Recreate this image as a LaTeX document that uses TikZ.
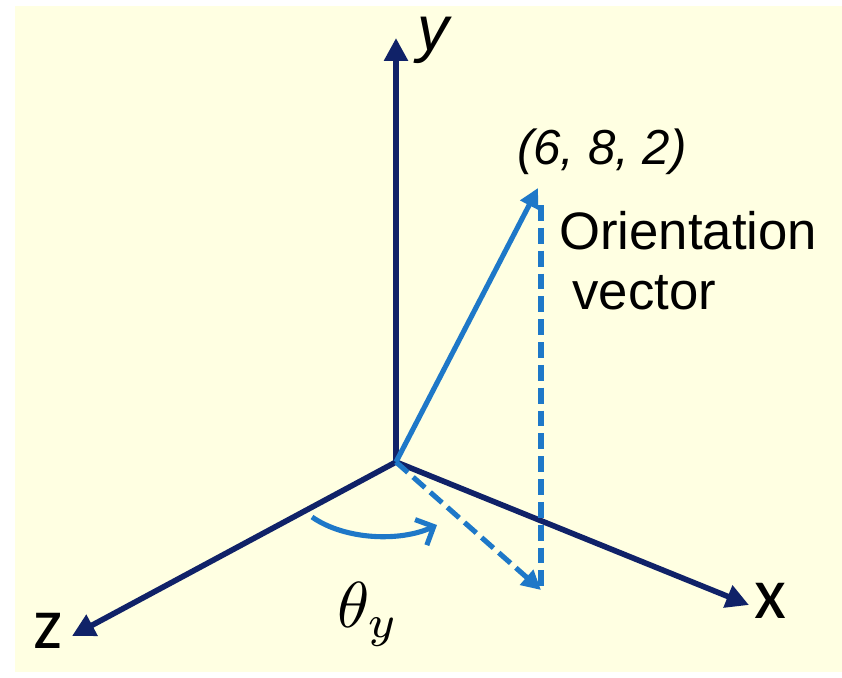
\documentclass[tikz,border=0pt]{standalone}
\usepackage{fontspec}
\setmainfont{Liberation Sans}
\newfontfamily\axisfont{Carlito}
\usetikzlibrary{arrows.meta,positioning}
\definecolor{bgcream}{RGB}{255,255,226}
\definecolor{axisnavy}{RGB}{16,34,104}
\definecolor{vecblue}{RGB}{30,120,200}

\begin{document}
\begin{tikzpicture}[
    x=0.02cm, y=-0.02cm,
    axis/.style={draw=axisnavy,line width=3.2pt,-{Triangle[length=13pt,width=13pt]}},
    vec/.style={draw=vecblue,line width=2.9pt,-{Triangle[length=11pt,width=11pt]}},
    proj/.style={draw=vecblue,line width=2.9pt,dash pattern=on 9pt off 4pt},
    turn/.style={draw=vecblue,line width=2.9pt,-{Straight Barb[length=8pt,width=16pt]}},
    lbl/.style={inner sep=0pt,font=\fontsize{30}{34}\selectfont,align=left}
]
    \useasboundingbox (0,0) rectangle (842,677);
    \fill[bgcream] (15,6) rectangle (842,672);

    % Axes
    \coordinate (O) at (396,462);
    \coordinate (ytip) at (396,38);
    \coordinate (xtip) at (749,605);
    \coordinate (ztip) at (72,636);
    \draw[axis] (O) -- (ytip);
    \draw[axis] (O) -- (xtip);
    \draw[axis] (O) -- (ztip);

    % Orientation vector and projection
    \coordinate (P) at (538,188);
    \coordinate (Pfoot) at (541,590);
    \draw[vec] (O) -- (P);
    \draw[proj] (541,205) -- (Pfoot);
    \draw[proj,-{Triangle[length=11pt,width=11pt]}] (O) -- (Pfoot);

    % Rotation about y
    \coordinate (turnA) at (312,517);
    \coordinate (turnB) at (437,525);
    \draw[turn] (turnA) .. controls (345,540) and (400,542) .. (turnB);

    % Labels
    \node[lbl,font=\fontsize{36}{40}\selectfont\itshape] (ylab) at (433,40) {y};
    \node[lbl,font=\fontsize{42}{46}\selectfont\axisfont] (xlab) at (770,601) {x};
    \node[lbl,font=\fontsize{42}{46}\selectfont\axisfont] (zlab) at (48,631) {z};
    \node[lbl,font=\fontsize{28}{32}\selectfont\itshape] (plab) at (602,152) {(6, 8, 2)};
    \node[lbl,anchor=west] (olab) at (559,231) {Orientation};
    \node[lbl,anchor=west] (vlab) at (572,293) {vector};
    \node[lbl,font=\normalsize,scale=3.7] (tlab) at (368,614) {$\theta_y$};
\end{tikzpicture}
\end{document}
